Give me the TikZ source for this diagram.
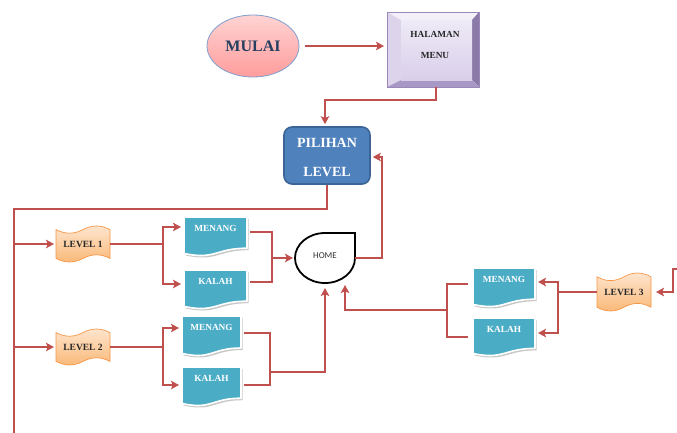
\documentclass[tikz,border=0pt]{standalone}
\usepackage{fontspec}
\setmainfont{Liberation Serif}
\newfontfamily\calfont{Carlito}
\usetikzlibrary{arrows.meta,calc,shapes.geometric}

\definecolor{connred}{HTML}{C0504D}
\definecolor{docblue}{HTML}{4BACC6}
\definecolor{tapetop}{HTML}{FEE6D0}
\definecolor{tapebot}{HTML}{F9B877}
\definecolor{tapeline}{HTML}{F79646}
\definecolor{pilfill}{HTML}{4F81BD}
\definecolor{pilline}{HTML}{3A6596}
\definecolor{mulaitop}{HTML}{FFD3D3}
\definecolor{mulaibot}{HTML}{FF9C9C}
\definecolor{mulailine}{HTML}{7F9FCF}
\definecolor{mulaitext}{HTML}{243F60}
\definecolor{bvface1}{HTML}{EEEAF6}
\definecolor{bvface2}{HTML}{D9CFEA}
\definecolor{bvtop}{HTML}{F3F0F9}
\definecolor{bvleft}{HTML}{DDD4EC}
\definecolor{bvright}{HTML}{8B7AA7}
\definecolor{bvbottom}{HTML}{A898C6}
\definecolor{bvline}{HTML}{9A88B8}

\newcommand\docnode[6]{% name, x1, y1, w, h, text
  \path[fill=black!22, shift={({#2+1.5},{#3+2})}]
    (0,0) -- (#4,0) -- (#4,{0.8*#5})
    .. controls ({0.5*#4},{0.8*#5}) and ({0.5*#4},{1.108*#5}) .. (0,{0.934*#5}) -- cycle;
  \path[fill=docblue, draw=white, line width=1.6pt, line join=round, shift={(#2,#3)}]
    (0,0) -- (#4,0) -- (#4,{0.8*#5})
    .. controls ({0.5*#4},{0.8*#5}) and ({0.5*#4},{1.108*#5}) .. (0,{0.934*#5}) -- cycle;
  \node[holder, minimum width=#4pt, minimum height=#5pt] (#1) at ({#2+#4/2},{#3+#5/2}) {};
  \node[doctext] (#1-t) at ({#2+#4/2},{#3+11}) {#6};
}
\newcommand\tapenode[6]{% name, x1, y1, w, h, text
  \path[top color=tapetop, bottom color=tapebot, draw=tapeline, line width=0.7pt, shift={(#2,#3)}]
    (0,{0.1*#5}) .. controls ({0.17*#4},{0.233*#5}) and ({0.33*#4},{0.233*#5}) .. ({0.5*#4},{0.1*#5})
    .. controls ({0.67*#4},{-0.033*#5}) and ({0.83*#4},{-0.033*#5}) .. (#4,{0.1*#5})
    -- (#4,{0.9*#5})
    .. controls ({0.83*#4},{0.767*#5}) and ({0.67*#4},{0.767*#5}) .. ({0.5*#4},{0.9*#5})
    .. controls ({0.33*#4},{1.033*#5}) and ({0.17*#4},{1.033*#5}) .. (0,{0.9*#5}) -- cycle;
  \node[holder, minimum width=#4pt, minimum height=#5pt] (#1) at ({#2+#4/2},{#3+#5/2}) {};
  \node[tapetext] (#1-t) at ({#2+#4/2},{#3+#5/2}) {#6};
}

\begin{document}
\begin{tikzpicture}[x=1pt,y=-1pt,
  holder/.style={rectangle, inner sep=0pt, outer sep=0pt},
  doctext/.style={text=white, font=\fontsize{9.3}{10}\selectfont\bfseries, inner sep=0pt},
  tapetext/.style={text=black!85, font=\fontsize{9.5}{10}\selectfont\bfseries, inner sep=0pt},
  cl/.style={draw=connred, line width=2.3pt},
  arr/.style={-{Stealth[length=8pt,width=8.5pt,inset=1.8pt]}},
  mulaistyle/.style={ellipse, minimum width=92pt, minimum height=62pt, inner sep=0pt,
    top color=mulaitop, bottom color=mulaibot, draw=mulailine, line width=0.8pt,
    text=mulaitext, font=\fontsize{16}{16}\selectfont\bfseries},
  pilstyle/.style={rectangle, rounded corners=8pt, minimum width=86pt, minimum height=57pt,
    fill=pilfill, draw=pilline, line width=1.6pt, inner sep=0pt},
]
\useasboundingbox (0,0) rectangle (677,432);

% MULAI
\node[mulaistyle] (mulai) at (253,46) {MULAI};

% HALAMAN MENU bevel box
\fill[bvtop] (387,12) -- (479,12) -- (472,20) -- (401,20) -- cycle;
\fill[bvleft] (387,12) -- (401,20) -- (401,80) -- (387,87) -- cycle;
\fill[bvright] (479,12) -- (479,87) -- (472,80) -- (472,20) -- cycle;
\fill[bvbottom] (387,87) -- (401,80) -- (472,80) -- (479,87) -- cycle;
\path[top color=bvface1, bottom color=bvface2] (401,20) rectangle (472,80);
\draw[bvline, line width=0.5pt] (387,12) rectangle (479,87);
\node[holder, minimum width=92pt, minimum height=75pt] (menu) at (433,49.5) {};
\node[align=center, text=black!85, font=\fontsize{9.3}{21}\selectfont\bfseries, inner sep=0pt]
  (menu-t) at (435,44.5) {HALAMAN\\MENU};

% PILIHAN LEVEL
\node[pilstyle] (pilihan) at (327,155.5) {};
\node[align=center, text=white, font=\fontsize{14}{29}\selectfont\bfseries, inner sep=0pt]
  (pilihan-t) at (327,157.5) {PILIHAN\\LEVEL};

% HOME
\draw[black, line width=1.8pt, fill=white]
  (325,233) -- (355,233) -- (355,258)
  .. controls (355,271.8) and (341.6,283) .. (325,283)
  .. controls (308.4,283) and (295,271.8) .. (295,258)
  .. controls (295,244.2) and (308.4,233) .. (325,233) -- cycle;
\node[holder, minimum width=60pt, minimum height=50pt] (home) at (325,258) {};
\node[font=\calfont\fontsize{9}{10}\selectfont, text=black!80, inner sep=0pt] (home-t) at (325,256) {HOME};

% LEVEL tapes
\tapenode{l1}{56}{226}{54}{36}{LEVEL 1}
\tapenode{l2}{56}{329}{54}{36}{LEVEL 2}
\tapenode{l3}{597}{273}{54}{38}{LEVEL 3}

% documents
\docnode{m1}{184}{217}{63}{39}{MENANG}
\docnode{k1}{184}{270}{63}{39}{KALAH}
\docnode{m2}{182}{316}{59}{40}{MENANG}
\docnode{k2}{182}{367}{59}{39}{KALAH}
\docnode{m3}{473}{268}{62}{39}{MENANG}
\docnode{k3}{473}{318}{62}{38}{KALAH}

% connectors
\draw[cl,arr] ($(mulai.east)+(6,0)$) -- ($(mulai.east -| menu.west)+(-3,0)$);

\coordinate (mp) at ($(menu.south)+(3,13)$);
\draw[cl,arr] ($(menu.south)+(3,0)$) -- (mp) -| ($(pilihan.north)+(-2,-2)$);

\coordinate (trunk) at (14,209);
\coordinate (trunkend) at (14,434);
\draw[cl] (pilihan.south) |- (trunk) -- (trunkend);
\draw[cl,arr] (trunk |- l1.west) -- ($(l1.west)+(-2,0)$);
\draw[cl,arr] (trunk |- l2.west) -- ($(l2.west)+(-2,0)$);

% level 1 group
\coordinate (f1) at ($(l1.east)+(53,0)$);
\draw[cl] (l1.east) -- (f1);
\draw[cl,arr] (f1) |- ($(m1.north west)+(-3,10)$);
\draw[cl,arr] (f1) |- ($(k1.north west)+(-3,14)$);
\coordinate (j1) at ($(home.west)+(-23,0)$);
\draw[cl] ($(m1.north east)+(3,15)$) -| (j1);
\draw[cl] ($(k1.north east)+(3,12)$) -| (j1);
\draw[cl,arr] (j1) -- ($(home.west)+(-2,0)$);

% level 2 group
\coordinate (f2) at ($(l2.east)+(53,0)$);
\draw[cl] (l2.east) -- (f2);
\draw[cl,arr] (f2) |- ($(m2.north west)+(-3,12)$);
\draw[cl,arr] (f2) |- ($(k2.north west)+(-3,18)$);
\coordinate (j2) at ($(m2.north east)+(29,56)$);
\draw[cl] ($(m2.north east)+(3,17)$) -| (j2);
\draw[cl] ($(k2.north east)+(3,18)$) -| (j2);
\draw[cl,arr] (j2) -| ($(home.south)+(0,5)$);

% level 3 group
\coordinate (in3) at (678,269);
\coordinate (c3) at (673,269);
\draw[cl,arr] (in3) -- (c3) |- ($(l3.east)+(5,0)$);
\coordinate (f3) at ($(l3.west)+(-39,0)$);
\draw[cl] (l3.west) -- (f3);
\draw[cl,arr] (f3) |- ($(m3.north east)+(3,14)$);
\draw[cl,arr] (f3) |- ($(k3.north east)+(3,15)$);
\coordinate (j3) at ($(m3.north west)+(-26,42)$);
\draw[cl] ($(m3.north west)+(-5,16)$) -| (j3);
\draw[cl] ($(k3.north west)+(-5,19)$) -| (j3);
\draw[cl,arr] (j3) -| ($(home.south)+(20,2)$);

% home back to pilihan
\coordinate (hr) at ($(home.east)+(27,0)$);
\draw[cl,arr] (home.east) -- (hr) |- ($(pilihan.east)+(2,1.5)$);
\end{tikzpicture}
\end{document}
